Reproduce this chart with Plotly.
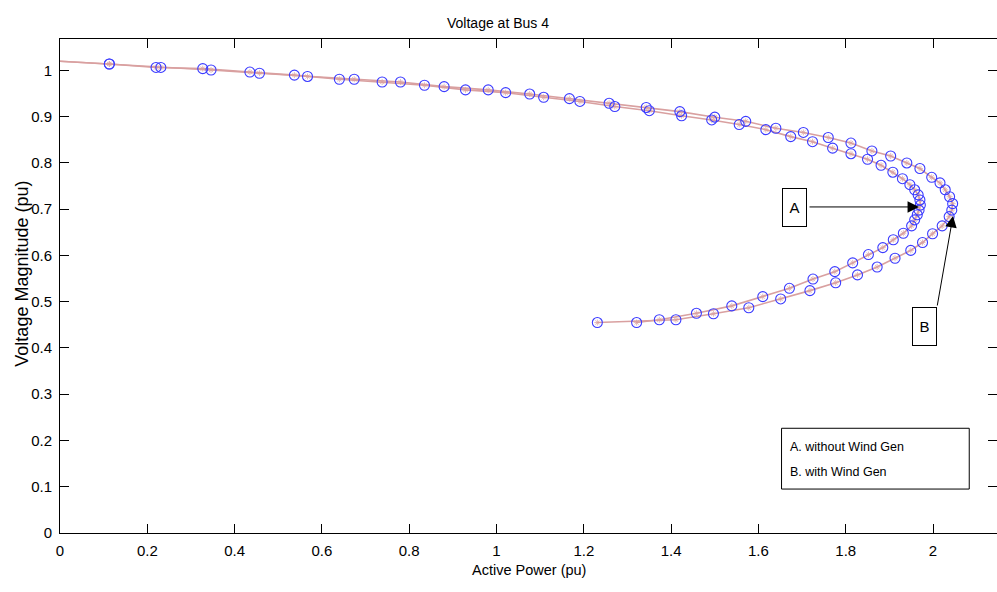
import plotly.graph_objects as go

# ---- data ----
start_p = [0.0]
start_v = [1.02]

pA = [0.113, 0.220, 0.327, 0.435, 0.537, 0.640, 0.738, 0.835, 0.929, 1.021,
      1.108, 1.191, 1.271, 1.350, 1.424, 1.493, 1.556, 1.617, 1.674, 1.724,
      1.770, 1.812, 1.850, 1.881, 1.908, 1.930, 1.947, 1.958, 1.966, 1.970,
      1.971, 1.968, 1.964, 1.958, 1.951, 1.932, 1.909, 1.885, 1.852, 1.816,
      1.775, 1.725, 1.671, 1.610, 1.539, 1.458, 1.373, 1.321]
vA = [1.014, 1.0065, 1.004, 0.9965, 0.990, 0.981, 0.975, 0.968, 0.958, 0.952,
      0.942, 0.933, 0.922, 0.913, 0.902, 0.893, 0.883, 0.872, 0.857, 0.846,
      0.832, 0.820, 0.808, 0.795, 0.780, 0.766, 0.753, 0.742, 0.731, 0.720,
      0.709, 0.698, 0.688, 0.677, 0.664, 0.648, 0.634, 0.617, 0.602, 0.584,
      0.565, 0.549, 0.529, 0.511, 0.491, 0.475, 0.461, 0.455]

pB = [0.113, 0.231, 0.346, 0.457, 0.567, 0.674, 0.780, 0.880, 0.981, 1.076,
      1.167, 1.258, 1.343, 1.420, 1.500, 1.571, 1.640, 1.703, 1.760, 1.812,
      1.860, 1.903, 1.940, 1.970, 1.997, 2.016, 2.028, 2.038, 2.045, 2.043,
      2.037, 2.021, 1.999, 1.976, 1.949, 1.913, 1.872, 1.827, 1.777, 1.718,
      1.651, 1.578, 1.497, 1.411, 1.231]
vB = [1.014, 1.0065, 1.001, 0.994, 0.987, 0.981, 0.975, 0.965, 0.958, 0.949,
      0.939, 0.929, 0.920, 0.911, 0.899, 0.890, 0.875, 0.866, 0.855, 0.843,
      0.826, 0.815, 0.800, 0.788, 0.769, 0.757, 0.742, 0.727, 0.712, 0.698,
      0.684, 0.664, 0.647, 0.628, 0.611, 0.594, 0.575, 0.558, 0.541, 0.524,
      0.506, 0.487, 0.474, 0.461, 0.455]

x_ticks = [0, 0.2, 0.4, 0.6, 0.8, 1, 1.2, 1.4, 1.6, 1.8, 2]
x_tick_text = ["0", "0.2", "0.4", "0.6", "0.8", "1", "1.2", "1.4", "1.6", "1.8", "2"]
y_ticks = [0, 0.1, 0.2, 0.3, 0.4, 0.5, 0.6, 0.7, 0.8, 0.9, 1]
y_tick_text = ["0", "0.1", "0.2", "0.3", "0.4", "0.5", "0.6", "0.7", "0.8", "0.9", "1"]

title_text = "Voltage at Bus 4"
x_title = "Active Power (pu)"
y_title = "Voltage Magnitude (pu)"
legend_lines = ["A. without Wind Gen", "B. with Wind Gen"]

LINE_COLOR = "#d9a0a0"
MARK_COLOR = "#3b3bff"
FONT = "Liberation Sans, Arial, sans-serif"

fig = go.Figure()

for p, v in ((pA, vA), (pB, vB)):
    xs = start_p + p
    ys = start_v + v
    sizes = [0] + [5] * len(p)
    fig.add_trace(go.Scatter(
        x=xs, y=ys, mode="lines+markers",
        line=dict(color=LINE_COLOR, width=1.6),
        marker=dict(symbol="asterisk-open", size=sizes, color=LINE_COLOR,
                    line=dict(color=LINE_COLOR, width=1)),
        showlegend=False, hoverinfo="skip"))
for p, v in ((pA, vA), (pB, vB)):
    fig.add_trace(go.Scatter(
        x=p, y=v, mode="markers",
        marker=dict(symbol="circle-open", size=10, color=MARK_COLOR,
                    line=dict(color=MARK_COLOR, width=1.1)),
        showlegend=False, hoverinfo="skip"))

axis_common = dict(
    showline=True, linecolor="black", linewidth=1, mirror="ticks",
    ticks="inside", ticklen=9, tickcolor="black", tickwidth=1,
    showgrid=False, zeroline=False,
    tickfont=dict(family=FONT, size=15, color="black"),
)

fig.update_layout(
    width=997, height=592, autosize=False,
    margin=dict(l=60, r=0, t=39, b=59),
    paper_bgcolor="white", plot_bgcolor="white",
    xaxis=dict(range=[0, 2.1466], tickvals=x_ticks, ticktext=x_tick_text,
               ticklabelstandoff=4, **axis_common),
    yaxis=dict(range=[0, 1.068], tickvals=y_ticks, ticktext=y_tick_text,
               ticklabelstandoff=4, **axis_common),
)

annotations = [
    dict(text=title_text, xref="paper", yref="paper", x=(498 - 60) / 937, y=1,
         yshift=26, showarrow=False, font=dict(family=FONT, size=14, color="black")),
    dict(text=x_title, xref="paper", yref="paper", x=0.5, y=0, yshift=-47,
         showarrow=False, font=dict(family=FONT, size=14.5, color="black")),
    dict(text=y_title, xref="paper", yref="paper", x=0, y=0.525, xshift=-38,
         xanchor="center", yanchor="middle",
         textangle=-90, showarrow=False, font=dict(family=FONT, size=18, color="black")),
    # label boxes
    dict(text="A", x=1.6827, y=0.7038, xref="x", yref="y", showarrow=False,
         width=23, height=37, borderpad=0, bordercolor="black", borderwidth=1,
         bgcolor="white", font=dict(family=FONT, size=15, color="black")),
    dict(text="B", x=1.9805, y=0.4465, xref="x", yref="y", showarrow=False,
         width=23, height=37, borderpad=0, bordercolor="black", borderwidth=1,
         bgcolor="white", font=dict(family=FONT, size=15, color="black")),
    # arrows
    dict(text="", x=1.968, y=0.7049, ax=1.7136, ay=0.7049, xref="x", yref="y",
         axref="x", ayref="y", showarrow=True, arrowhead=2, arrowsize=2.3,
         arrowwidth=1, arrowcolor="black", standoff=0, startstandoff=0),
    dict(text="", x=2.0458, y=0.6854, ax=2.0092, ay=0.4886, xref="x", yref="y",
         axref="x", ayref="y", showarrow=True, arrowhead=2, arrowsize=2.3,
         arrowwidth=1, arrowcolor="black", standoff=0, startstandoff=0),
]
legend_y = [0.1866, 0.1325]
for txt, yy in zip(legend_lines, legend_y):
    annotations.append(dict(text=txt, x=1.668, y=yy, xref="x", yref="y",
                            xanchor="left", showarrow=False,
                            font=dict(family=FONT, size=12.5, color="black")))
fig.update_layout(annotations=annotations)

fig.add_shape(type="rect", x0=1.653, x1=2.083, y0=0.095, y1=0.2264,
              xref="x", yref="y", line=dict(color="black", width=1),
              fillcolor="rgba(0,0,0,0)")

fig.write_html("out.html")
